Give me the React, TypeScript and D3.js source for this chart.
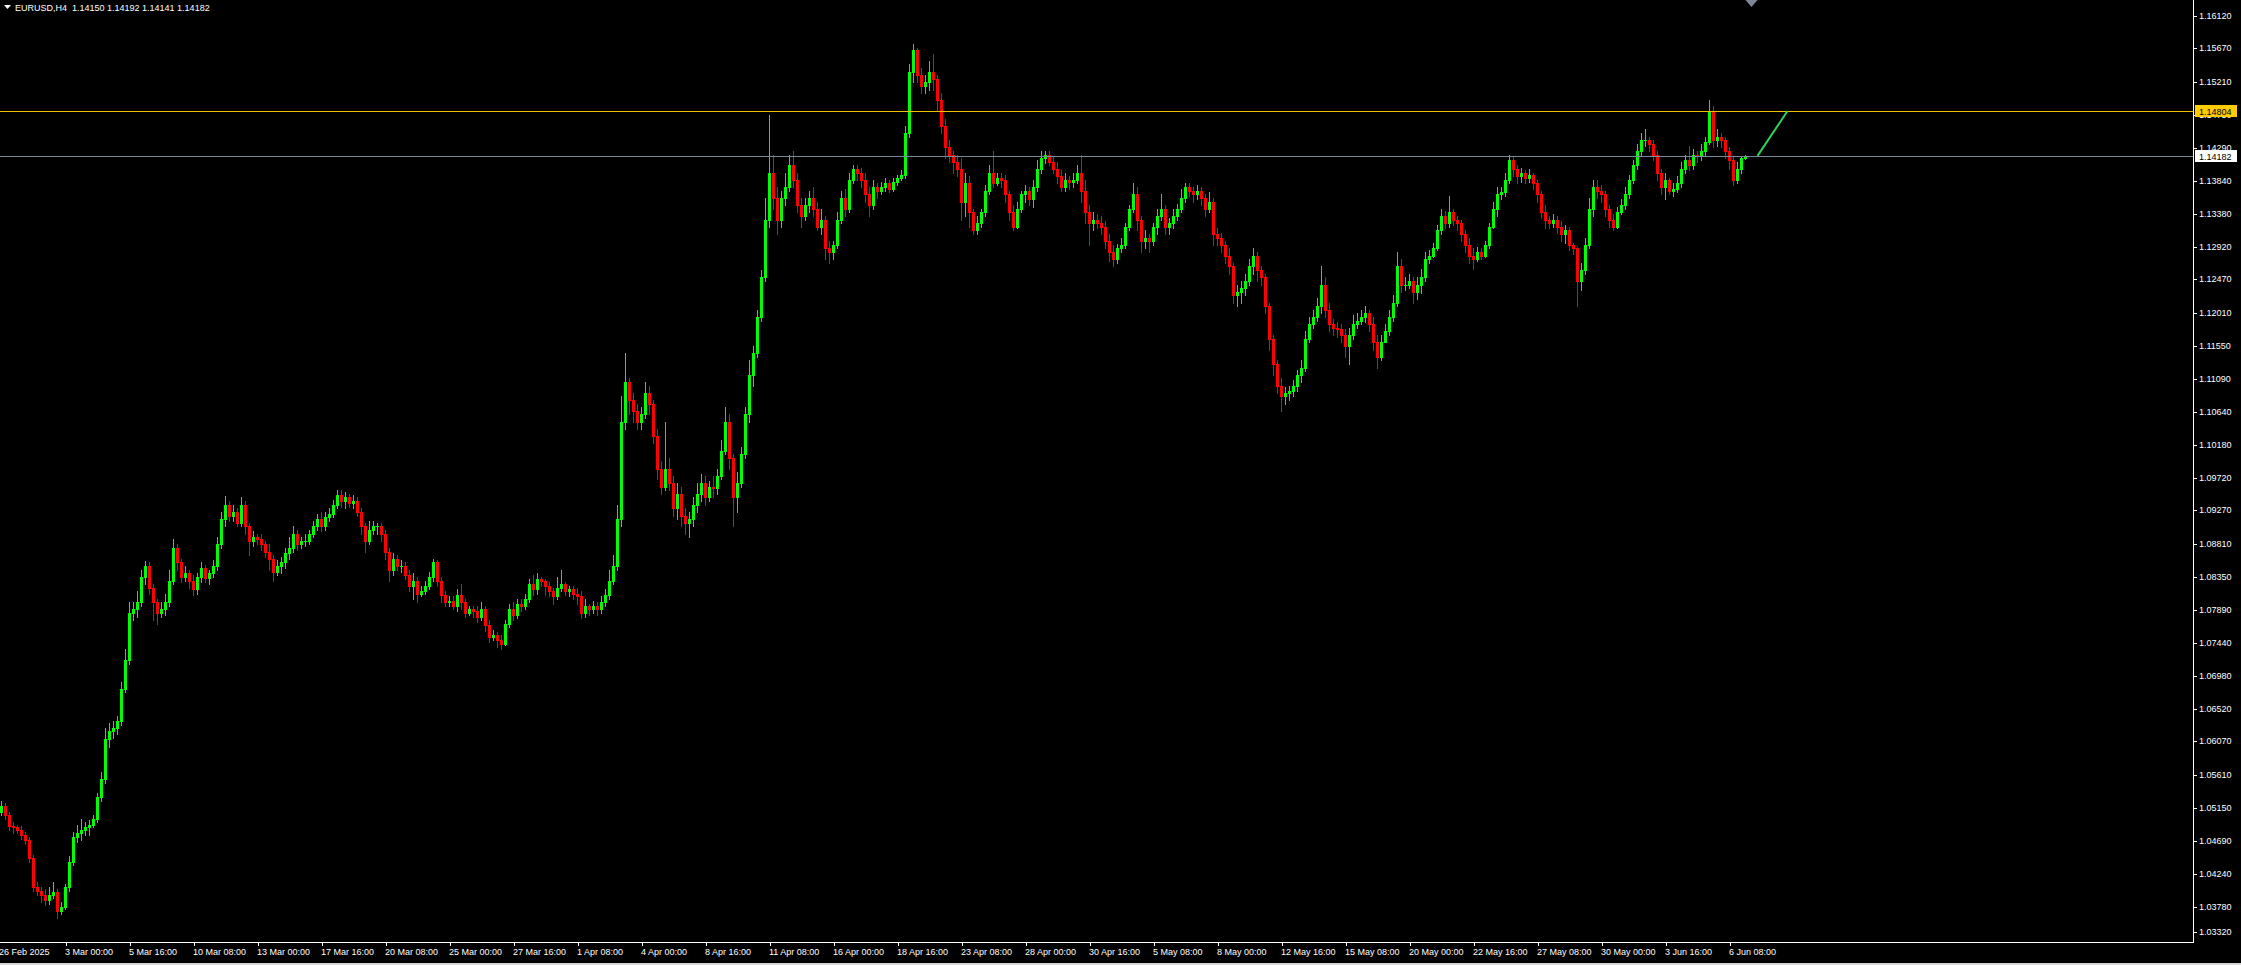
import React from 'react';
import * as d3 from 'd3';

// ---- DATA (prices in pips: price = 1 + v / 10000) ----
const firstOpenPips = 510;

// H4 closes, one line per trading day (26 Feb 08:00 ... 9 Jun 00:00)
const closePips = [
  518, 505, 490, 488,
  485, 478, 470, 445, 405, 400,
  395, 388, 395, 398, 372, 378,
  405, 440, 475, 480, 485, 488,
  492, 500, 530, 555, 610, 622,
  625, 635, 680, 720, 785, 790,
  800, 835, 850, 820, 800, 785,
  790, 800, 830, 875, 855, 835,
  840, 830, 818, 835, 848, 833,
  840, 850, 880, 915, 935, 920,
  925, 910, 935, 905, 885, 890,
  888, 880, 870, 860, 842, 850,
  855, 868, 875, 895, 880, 885,
  885, 895, 905, 915, 905, 918,
  922, 935, 948, 940, 945, 938,
  940, 925, 905, 885, 900, 905,
  905, 895, 870, 845, 860, 850,
  850, 838, 822, 830, 812, 815,
  822, 835, 855, 830, 810, 800,
  802, 795, 810, 800, 785, 790,
  788, 780, 790, 768, 752, 755,
  748, 742, 770, 790, 782, 798,
  795, 805, 825, 818, 832, 830,
  822, 815, 808, 820, 825, 815,
  818, 812, 808, 785, 795, 790,
  795, 790, 800, 810, 830, 850,
  915, 1050, 1105, 1080, 1065, 1050,
  1060, 1090, 1075, 1030, 985, 960,
  985, 965, 930, 950, 920, 910,
  915, 935, 950, 965, 945, 960,
  958, 975, 1010, 1050, 1000, 945,
  965, 1005, 1060, 1115, 1145, 1195,
  1250, 1330, 1395, 1360, 1330, 1360,
  1375, 1405, 1385, 1350, 1335, 1350,
  1360, 1345, 1320, 1330, 1290, 1285,
  1295, 1330, 1360, 1345, 1385, 1400,
  1395, 1385, 1365, 1350, 1375, 1370,
  1375, 1380, 1372, 1382, 1388, 1392,
  1450, 1535, 1565, 1530, 1515, 1520,
  1535, 1525, 1495, 1460, 1430, 1420,
  1410, 1400, 1355, 1380, 1340, 1315,
  1325, 1340, 1370, 1395, 1380, 1388,
  1385, 1365, 1340, 1320, 1345, 1365,
  1370, 1358, 1375, 1400, 1415, 1420,
  1410, 1400, 1390, 1375, 1385, 1382,
  1385, 1395, 1370, 1340, 1325, 1330,
  1325, 1320, 1300, 1285, 1275, 1290,
  1295, 1320, 1345, 1365, 1330, 1300,
  1305, 1300, 1320, 1335, 1345, 1320,
  1325, 1335, 1345, 1360, 1375, 1370,
  1365, 1370, 1360, 1345, 1355, 1310,
  1305, 1295, 1280, 1265, 1225, 1230,
  1235, 1245, 1265, 1280, 1260, 1250,
  1210, 1165, 1130, 1100, 1085, 1090,
  1092, 1100, 1115, 1125, 1165, 1185,
  1195, 1210, 1240, 1205, 1185, 1180,
  1178, 1170, 1155, 1170, 1185, 1190,
  1195, 1200, 1185, 1160, 1140, 1160,
  1175, 1195, 1215, 1265, 1240, 1240,
  1245, 1230, 1240, 1250, 1275, 1280,
  1290, 1315, 1335, 1325, 1340, 1330,
  1325, 1310, 1295, 1280, 1275, 1285,
  1280, 1295, 1320, 1345, 1365, 1368,
  1385, 1412, 1400, 1390, 1395, 1388,
  1392, 1380, 1365, 1340, 1330, 1325,
  1330, 1320, 1310, 1315, 1295, 1290,
  1245, 1260, 1295, 1345, 1375, 1370,
  1365, 1345, 1330, 1320, 1340, 1350,
  1365, 1385, 1405, 1425, 1440, 1440,
  1435, 1420, 1395, 1375, 1385, 1370,
  1372, 1380, 1400, 1412, 1405, 1420,
  1418, 1425, 1438, 1480, 1440, 1445,
  1440, 1425, 1412, 1385, 1400, 1415,
  1418.2,
];

const highPips = [
  525, 522, 510, 495,
  492, 490, 482, 475, 450, 412,
  405, 402, 405, 412, 402, 385,
  410, 448, 482, 492, 500, 495,
  498, 505, 535, 565, 625, 632,
  635, 642, 690, 735, 800, 800,
  815, 845, 857, 855, 825, 805,
  800, 812, 845, 888, 880, 860,
  850, 845, 838, 840, 855, 852,
  845, 858, 890, 925, 947, 940,
  935, 930, 945, 940, 910, 898,
  895, 895, 885, 880, 865, 858,
  862, 875, 890, 905, 900, 890,
  895, 900, 912, 922, 925, 925,
  930, 942, 955, 955, 952, 950,
  948, 945, 930, 910, 912, 912,
  910, 910, 900, 875, 868, 865,
  858, 855, 845, 840, 835, 822,
  830, 842, 860, 858, 835, 815,
  808, 808, 818, 825, 805, 795,
  795, 795, 800, 795, 775, 762,
  758, 755, 775, 798, 800, 805,
  805, 812, 832, 838, 840, 835,
  832, 828, 820, 835, 845, 828,
  822, 822, 820, 815, 805, 798,
  802, 800, 808, 818, 845, 865,
  935, 1085, 1145, 1110, 1090, 1075,
  1070, 1105, 1100, 1080, 1040, 995,
  1050, 1000, 975, 965, 960, 930,
  925, 945, 965, 978, 975, 968,
  975, 985, 1025, 1070, 1060, 1005,
  980, 1015, 1070, 1135, 1155, 1205,
  1260, 1360, 1475, 1420, 1375, 1370,
  1395, 1420, 1425, 1395, 1360, 1360,
  1370, 1375, 1355, 1345, 1335, 1300,
  1300, 1340, 1370, 1372, 1395, 1405,
  1405, 1402, 1395, 1375, 1385, 1380,
  1382, 1388, 1385, 1388, 1392, 1398,
  1460, 1545, 1573, 1568, 1540, 1530,
  1550, 1560, 1530, 1505, 1470, 1440,
  1425, 1420, 1415, 1395, 1390, 1345,
  1335, 1345, 1378, 1405, 1425, 1395,
  1395, 1392, 1370, 1350, 1355, 1370,
  1378, 1375, 1385, 1412, 1425, 1425,
  1425, 1418, 1410, 1398, 1395, 1390,
  1395, 1405, 1420, 1385, 1350, 1340,
  1338, 1335, 1328, 1310, 1295, 1296,
  1305, 1325, 1350, 1380, 1375, 1335,
  1315, 1310, 1325, 1345, 1365, 1350,
  1332, 1345, 1352, 1372, 1380, 1380,
  1375, 1378, 1375, 1365, 1368, 1360,
  1318, 1312, 1300, 1290, 1270, 1240,
  1245, 1255, 1275, 1290, 1285, 1265,
  1255, 1215, 1170, 1135, 1110, 1098,
  1100, 1108, 1122, 1135, 1175, 1195,
  1205, 1222, 1265, 1250, 1215, 1192,
  1188, 1185, 1178, 1180, 1198, 1200,
  1205, 1210, 1205, 1195, 1170, 1170,
  1185, 1205, 1225, 1285, 1275, 1250,
  1255, 1250, 1250, 1262, 1285, 1288,
  1298, 1322, 1345, 1342, 1362, 1345,
  1335, 1330, 1315, 1305, 1290, 1292,
  1290, 1300, 1325, 1355, 1375, 1375,
  1395, 1420, 1418, 1405, 1402, 1398,
  1400, 1395, 1385, 1370, 1350, 1335,
  1338, 1335, 1328, 1322, 1320, 1298,
  1292, 1270, 1305, 1360, 1385, 1385,
  1378, 1370, 1350, 1338, 1348, 1358,
  1375, 1392, 1412, 1435, 1450, 1455,
  1445, 1440, 1425, 1400, 1395, 1388,
  1380, 1390, 1410, 1420, 1432, 1428,
  1425, 1435, 1445, 1495, 1488, 1455,
  1450, 1445, 1430, 1418, 1410, 1418,
  1419.2,
];

const lowPips = [
  505, 500, 485, 480,
  480, 472, 465, 440, 400, 395,
  385, 380, 382, 390, 362, 368,
  375, 400, 436, 468, 470, 478,
  478, 488, 495, 525, 550, 600,
  612, 618, 630, 675, 715, 775,
  780, 795, 825, 812, 775, 770,
  780, 782, 795, 825, 845, 828,
  830, 820, 810, 812, 828, 828,
  825, 835, 845, 875, 905, 912,
  912, 905, 905, 895, 866, 878,
  880, 872, 862, 845, 830, 838,
  840, 848, 860, 870, 872, 875,
  878, 880, 890, 900, 898, 900,
  912, 918, 930, 932, 930, 932,
  930, 920, 895, 870, 880, 895,
  895, 885, 860, 830, 838, 845,
  842, 832, 815, 805, 800, 808,
  812, 818, 830, 822, 800, 795,
  795, 790, 788, 790, 780, 782,
  780, 772, 775, 760, 745, 748,
  738, 735, 740, 765, 775, 778,
  788, 790, 800, 810, 812, 822,
  810, 808, 798, 805, 815, 810,
  808, 805, 798, 778, 780, 782,
  785, 782, 785, 795, 805, 825,
  845, 905, 1040, 1060, 1050, 1040,
  1040, 1055, 1060, 1020, 970, 950,
  955, 955, 920, 915, 905, 895,
  890, 905, 925, 940, 935, 940,
  945, 950, 970, 1005, 985, 905,
  925, 960, 1000, 1050, 1100, 1140,
  1190, 1245, 1320, 1345, 1310, 1320,
  1350, 1370, 1375, 1340, 1320, 1330,
  1340, 1335, 1315, 1310, 1275, 1270,
  1275, 1290, 1325, 1335, 1340, 1380,
  1385, 1375, 1355, 1335, 1345, 1360,
  1365, 1370, 1368, 1370, 1378, 1385,
  1388, 1445, 1520, 1520, 1505, 1505,
  1510, 1510, 1480, 1450, 1415, 1410,
  1395, 1390, 1330, 1335, 1320, 1310,
  1310, 1320, 1335, 1365, 1375, 1378,
  1375, 1355, 1330, 1315, 1318, 1340,
  1355, 1350, 1348, 1370, 1395, 1408,
  1405, 1395, 1380, 1370, 1370, 1372,
  1375, 1380, 1355, 1325, 1295, 1315,
  1318, 1310, 1290, 1272, 1265, 1270,
  1285, 1290, 1315, 1340, 1315, 1285,
  1290, 1285, 1295, 1310, 1330, 1310,
  1310, 1318, 1330, 1340, 1355, 1362,
  1355, 1358, 1350, 1335, 1340, 1295,
  1295, 1285, 1270, 1255, 1215, 1210,
  1215, 1225, 1240, 1255, 1245, 1240,
  1200, 1150, 1115, 1090, 1065, 1075,
  1080, 1085, 1092, 1105, 1120, 1160,
  1180, 1190, 1200, 1195, 1175, 1170,
  1168, 1160, 1140, 1130, 1165, 1180,
  1185, 1188, 1175, 1150, 1125, 1135,
  1160, 1170, 1190, 1210, 1230, 1232,
  1235, 1215, 1220, 1228, 1245, 1270,
  1278, 1288, 1310, 1318, 1320, 1322,
  1315, 1300, 1285, 1270, 1262, 1272,
  1275, 1278, 1290, 1318, 1335, 1358,
  1362, 1380, 1390, 1380, 1382, 1380,
  1382, 1372, 1355, 1332, 1318, 1318,
  1320, 1312, 1300, 1298, 1288, 1282,
  1210, 1232, 1255, 1290, 1335, 1360,
  1355, 1335, 1320, 1315, 1318, 1338,
  1345, 1360, 1380, 1400, 1418, 1432,
  1425, 1412, 1385, 1365, 1358, 1365,
  1362, 1368, 1375, 1395, 1398, 1400,
  1410, 1412, 1420, 1435, 1430, 1432,
  1430, 1415, 1400, 1378, 1380, 1395,
  1414.1,
];

const priceTickLabels = [
  '1.16120', '1.15670', '1.15210', '1.14750', '1.14290', '1.13840', '1.13380',
  '1.12920', '1.12470', '1.12010', '1.11550', '1.11090', '1.10640', '1.10180',
  '1.09720', '1.09270', '1.08810', '1.08350', '1.07890', '1.07440', '1.06980',
  '1.06520', '1.06070', '1.05610', '1.05150', '1.04690', '1.04240', '1.03780',
  '1.03320',
];

const timeLabels = [
  '26 Feb 2025', '3 Mar 00:00', '5 Mar 16:00', '10 Mar 08:00', '13 Mar 00:00',
  '17 Mar 16:00', '20 Mar 08:00', '25 Mar 00:00', '27 Mar 16:00', '1 Apr 08:00',
  '4 Apr 00:00', '8 Apr 16:00', '11 Apr 08:00', '16 Apr 00:00', '18 Apr 16:00',
  '23 Apr 08:00', '28 Apr 00:00', '30 Apr 16:00', '5 May 08:00', '8 May 00:00',
  '12 May 16:00', '15 May 08:00', '20 May 00:00', '22 May 16:00', '27 May 08:00',
  '30 May 00:00', '3 Jun 16:00', '6 Jun 08:00',
];
const timeLabelBars = [
  0, 16, 32, 48, 64, 80, 96, 112, 128, 144, 160, 176, 192, 208, 224,
  240, 256, 272, 288, 304, 320, 336, 352, 368, 384, 400, 416, 432,
];

const symbolTitle = 'EURUSD,H4';
const lastOHLC = ['1.14150', '1.14192', '1.14141', '1.14182'];

const levelPrice = 1.14804; // gold horizontal line
const bidPrice = 1.14182; // bid line

const trendBars = [439, 446.5];
const trendPrices = [1.14182, 1.14804];

const shiftMarkerBar = 437.5;

// ---- LAYOUT ----
const W = 2241;
const H = 965;
const PLOT_RIGHT = 2193;
const PLOT_BOTTOM = 942;
const FONT = '"Liberation Sans", Arial, sans-serif';

const toPrice = (v: number) => 1 + v / 10000;

export default function App() {
  const x = d3.scaleLinear().domain([0, 1]).range([0, 4]);
  const y = d3.scaleLinear().domain([1.1612, 1.0332]).range([16, 940]);

  const candles = closePips.map((c, i) => {
    const o = i === 0 ? firstOpenPips : closePips[i - 1];
    return {
      o: toPrice(o),
      c: toPrice(c),
      h: toPrice(Math.max(highPips[i], o, c)),
      l: toPrice(Math.min(lowPips[i], o, c)),
    };
  });

  const trendLine = d3
    .line<number>()
    .x((_, i) => x(trendBars[i]) + 1.5)
    .y((p) => y(p));

  const yLevel = Math.round(y(levelPrice)) + 0.5;
  const yBid = Math.round(y(bidPrice)) + 0.5;
  const mx = x(shiftMarkerBar) + 1.5;

  return (
    <svg
      width={W}
      height={H}
      style={{ position: 'absolute', left: 0, top: 0, display: 'block' }}
      fontFamily={FONT}
    >
      <rect x={0} y={0} width={W} height={H} fill="#000" />

      {/* candles */}
      <g shapeRendering="crispEdges">
        {candles.map((d, i) => {
          const up = d.c >= d.o;
          const col = up ? '#00ff00' : '#ff0000';
          const x0 = x(i);
          const top = Math.round(y(Math.max(d.o, d.c)));
          const bot = Math.round(y(Math.min(d.o, d.c)));
          const hi = Math.round(y(d.h));
          const lo = Math.round(y(d.l));
          return (
            <g key={i}>
              <rect x={x0 + 1} y={hi} width={1} height={Math.max(1, lo - hi + 1)} fill={col} />
              <rect x={x0} y={top} width={3} height={Math.max(1, bot - top + 1)} fill={col} />
            </g>
          );
        })}
      </g>

      {/* horizontal lines */}
      <line x1={0} x2={PLOT_RIGHT} y1={yLevel} y2={yLevel} stroke="#f2c200" strokeWidth={1} />
      <line x1={0} x2={PLOT_RIGHT} y1={yBid} y2={yBid} stroke="#778899" strokeWidth={1} />

      {/* trend line */}
      <path d={trendLine(trendPrices) || ''} stroke="#2fd25a" strokeWidth={2} fill="none" />

      {/* shift marker */}
      <polygon points={`${mx - 6},0 ${mx + 6},0 ${mx},7`} fill="#7d8796" />

      {/* axes */}
      <g shapeRendering="crispEdges">
        <line x1={PLOT_RIGHT + 0.5} x2={PLOT_RIGHT + 0.5} y1={0} y2={PLOT_BOTTOM + 1} stroke="#fff" />
        <line x1={0} x2={PLOT_RIGHT + 1} y1={PLOT_BOTTOM + 0.5} y2={PLOT_BOTTOM + 0.5} stroke="#fff" />
        <rect x={0} y={963} width={W} height={2} fill="#d4d4d4" />
      </g>

      {/* price ticks & labels */}
      {priceTickLabels.map((t) => {
        const py = Math.round(y(+t));
        const ly = Math.min(py, 932);
        return (
          <g key={t}>
            <line x1={PLOT_RIGHT} x2={PLOT_RIGHT + 4} y1={ly + 0.5} y2={ly + 0.5} stroke="#fff" shapeRendering="crispEdges" />
            <text x={PLOT_RIGHT + 6} y={ly} dy="0.35em" fontSize={9} fill="#fff">
              {t}
            </text>
          </g>
        );
      })}

      {/* level labels */}
      <rect x={PLOT_RIGHT + 2} y={yLevel - 6.5} width={42} height={12} fill="#ffcc00" />
      <text x={PLOT_RIGHT + 6} y={yLevel} dy="0.35em" fontSize={9} fill="#000">
        {levelPrice.toFixed(5)}
      </text>
      <rect x={PLOT_RIGHT + 2} y={yBid - 6.5} width={42} height={12} fill="#ffffff" />
      <text x={PLOT_RIGHT + 6} y={yBid} dy="0.35em" fontSize={9} fill="#000">
        {bidPrice.toFixed(5)}
      </text>

      {/* time ticks & labels */}
      {timeLabels.map((t, i) => {
        const tx = Math.round(x(timeLabelBars[i]) + 1.5);
        return (
          <g key={t}>
            {i > 0 && (
              <line x1={tx + 0.5} x2={tx + 0.5} y1={PLOT_BOTTOM} y2={PLOT_BOTTOM + 4} stroke="#fff" shapeRendering="crispEdges" />
            )}
            <text x={i === 0 ? -1 : tx - 1} y={955} fontSize={9} fill="#fff">
              {t}
            </text>
          </g>
        );
      })}

      {/* title */}
      <polygon points="4,5 11,5 7.5,9" fill="#fff" />
      <text x={15} y={10.5} fontSize={9} fill="#fff" style={{ whiteSpace: 'pre' }}>
        {`${symbolTitle}  ${lastOHLC.join(' ')}`}
      </text>
    </svg>
  );
}
